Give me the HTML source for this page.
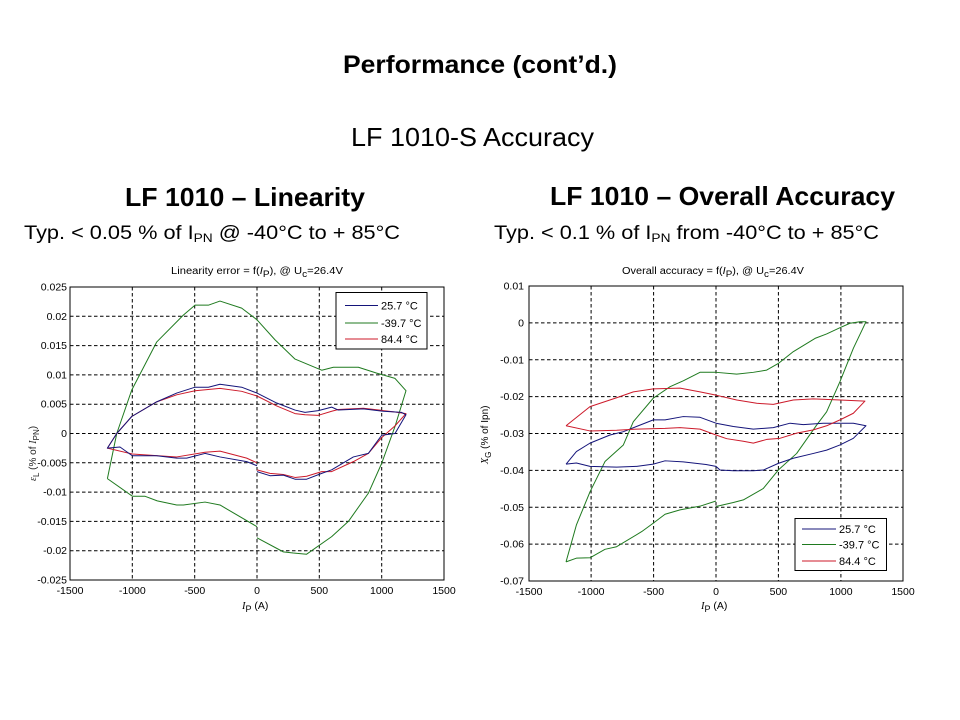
<!DOCTYPE html>
<html><head><meta charset="utf-8"><style>
html,body{margin:0;padding:0;background:#fff;}
svg{display:block;font-family:"Liberation Sans",Arial,sans-serif;}
</style></head><body>
<svg width="960" height="720" viewBox="0 0 960 720" xmlns="http://www.w3.org/2000/svg">
<rect width="960" height="720" fill="#fff"/>
<!-- Titles -->
<text x="343" y="73" font-size="25" font-weight="bold" textLength="274" lengthAdjust="spacingAndGlyphs">Performance (cont’d.)</text>
<text x="351" y="146" font-size="26" textLength="243" lengthAdjust="spacingAndGlyphs">LF 1010-S Accuracy</text>
<text x="125" y="206" font-size="26" font-weight="bold" textLength="240" lengthAdjust="spacingAndGlyphs">LF 1010 – Linearity</text>
<text x="550" y="205" font-size="26" font-weight="bold" textLength="345" lengthAdjust="spacingAndGlyphs">LF 1010 – Overall Accuracy</text>
<text x="24" y="239" font-size="19" textLength="376" lengthAdjust="spacingAndGlyphs">Typ. &lt; 0.05 % of I<tspan font-size="12" dy="3">PN</tspan><tspan dy="-3"> @ -40°C to + 85°C</tspan></text>
<text x="494" y="239" font-size="19" textLength="385" lengthAdjust="spacingAndGlyphs">Typ. &lt; 0.1 % of I<tspan font-size="12" dy="3">PN</tspan><tspan dy="-3"> from -40°C to + 85°C</tspan></text>

<defs>
<clipPath id="cl"><rect x="70" y="287" width="374" height="293"/></clipPath>
<clipPath id="cr"><rect x="529" y="286" width="374" height="295"/></clipPath>
</defs>

<!-- LEFT CHART -->
<text x="171" y="274" font-size="10" textLength="172" lengthAdjust="spacingAndGlyphs">Linearity error = f(<tspan font-style="italic">I</tspan><tspan font-size="9" dy="3">P</tspan><tspan dy="-3">), @ U</tspan><tspan font-size="9" dy="3">c</tspan><tspan dy="-3">=26.4V</tspan></text>
<g stroke="#000" stroke-width="1" stroke-dasharray="3.5,2.5" fill="none">
<line x1="132.3" y1="287" x2="132.3" y2="580"/>
<line x1="194.7" y1="287" x2="194.7" y2="580"/>
<line x1="257" y1="287" x2="257" y2="580"/>
<line x1="319.3" y1="287" x2="319.3" y2="580"/>
<line x1="381.7" y1="287" x2="381.7" y2="580"/>
<line x1="70" y1="316.3" x2="444" y2="316.3"/>
<line x1="70" y1="345.6" x2="444" y2="345.6"/>
<line x1="70" y1="374.9" x2="444" y2="374.9"/>
<line x1="70" y1="404.2" x2="444" y2="404.2"/>
<line x1="70" y1="433.5" x2="444" y2="433.5"/>
<line x1="70" y1="462.8" x2="444" y2="462.8"/>
<line x1="70" y1="492.1" x2="444" y2="492.1"/>
<line x1="70" y1="521.4" x2="444" y2="521.4"/>
<line x1="70" y1="550.7" x2="444" y2="550.7"/>
</g>
<g clip-path="url(#cl)">
<g transform="translate(257 433.5) scale(0.12467 -5.86)" fill="none" stroke-width="1" stroke-linejoin="round">
<polyline vector-effect="non-scaling-stroke" stroke="#1f7a1f" points="-1200,-7.7 -1000,-10.7 -900,-10.7 -800,-11.5 -644,-12.2 -590,-12.2 -417,-11.7 -297,-12.2 0,-15.9"/>
<polyline vector-effect="non-scaling-stroke" stroke="#1f7a1f" points="0,-17.8 211,-20.2 291,-20.4 398,-20.6 599,-17.6 733,-15.0 893,-10.2 1000,-5.1 1107,1.2 1195,7.3 1107,9.4 960,10.3 813,11.3 613,11.3 519,10.8 305,12.7 144,16.0 0,19.4 -123,21.4 -297,22.6 -390,21.9 -497,21.9 -591,20.2 -805,15.6 -1005,7.4 -1125,0 -1200,-7.7"/>
<polyline vector-effect="non-scaling-stroke" stroke="#cc1a2a" points="-1125,0 -1005,2.9 -805,5.4 -644,6.6 -497,7.3 -297,7.7 -123,7.2 0,6.4 158,4.7 305,3.4 385,3.2 492,3.1 599,3.8 652,4.1 853,4.3 1100,3.7 1195,3.4 1107,1.3 1000,-0.7 893,-3.4 773,-4.8 599,-6.5 519,-6.5 398,-7.3 305,-7.5 211,-7.0 104,-6.8 0,-6.2"/>
<polyline vector-effect="non-scaling-stroke" stroke="#cc1a2a" points="0,-5.0 -83,-4.2 -297,-3.0 -417,-3.2 -644,-4.0 -1000,-3.5 -1200,-2.5 -1125,0"/>
<polyline vector-effect="non-scaling-stroke" stroke="#14147a" points="-1125,0 -1005,2.9 -805,5.4 -644,6.9 -497,7.9 -390,7.9 -297,8.4 -123,7.9 0,6.9 158,5.2 305,4.0 385,3.6 492,3.9 599,4.5 652,4.0 853,4.2 1013,3.8 1160,3.6 1195,3.2 1107,0 1000,-0.3 893,-3.4 773,-4.0 599,-6.2 519,-6.8 398,-7.8 305,-7.8 211,-7.1 104,-7.2 0,-6.5"/>
<polyline vector-effect="non-scaling-stroke" stroke="#14147a" points="0,-5.5 -83,-4.8 -297,-4.0 -417,-3.4 -564,-4.2 -644,-4.2 -805,-3.8 -1000,-3.8 -1099,-2.3 -1200,-2.5 -1125,0"/>
</g>
</g>
<rect x="70" y="287" width="374" height="293" fill="none" stroke="#000" stroke-width="1"/>
<!-- left legend -->
<rect x="336" y="292.5" width="91" height="56.5" fill="#fff" stroke="#000" stroke-width="1"/>
<line x1="345" y1="305.5" x2="378" y2="305.5" stroke="#14147a"/>
<line x1="345" y1="323" x2="378" y2="323" stroke="#1f7a1f"/>
<line x1="345" y1="339" x2="378" y2="339" stroke="#cc1a2a"/>
<g font-size="11">
<text x="381" y="309.5">25.7 °C</text>
<text x="381" y="327">-39.7 °C</text>
<text x="381" y="343">84.4 °C</text>
</g>
<!-- left y ticks -->
<g font-size="10.5" text-anchor="end">
<text x="67" y="290.5">0.025</text>
<text x="67" y="319.8">0.02</text>
<text x="67" y="349.1">0.015</text>
<text x="67" y="378.4">0.01</text>
<text x="67" y="407.7">0.005</text>
<text x="67" y="437">0</text>
<text x="67" y="466.3">-0.005</text>
<text x="67" y="495.6">-0.01</text>
<text x="67" y="524.9">-0.015</text>
<text x="67" y="554.2">-0.02</text>
<text x="67" y="583.5">-0.025</text>
</g>
<g font-size="10.5" text-anchor="middle">
<text x="70" y="594">-1500</text>
<text x="132.3" y="594">-1000</text>
<text x="194.7" y="594">-500</text>
<text x="257" y="594">0</text>
<text x="319.3" y="594">500</text>
<text x="381.7" y="594">1000</text>
<text x="444" y="594">1500</text>
</g>
<text x="242" y="609" font-size="10.5"><tspan font-style="italic" font-family="Liberation Serif">I</tspan><tspan font-size="9" dy="3">P</tspan><tspan dy="-3"> (A)</tspan></text>
<text transform="translate(36 481) rotate(-90)" font-size="10" fill="#222"><tspan font-style="italic" font-family="Liberation Serif">ε</tspan><tspan font-size="8" dy="3">L</tspan><tspan dy="-3"> (% of </tspan><tspan font-style="italic" font-family="Liberation Serif">I</tspan><tspan font-size="8" dy="3">PN</tspan><tspan dy="-3">)</tspan></text>

<!-- RIGHT CHART -->
<text x="622" y="274" font-size="10" textLength="182" lengthAdjust="spacingAndGlyphs">Overall accuracy = f(<tspan font-style="italic">I</tspan><tspan font-size="9" dy="3">P</tspan><tspan dy="-3">), @ U</tspan><tspan font-size="9" dy="3">c</tspan><tspan dy="-3">=26.4V</tspan></text>
<g stroke="#000" stroke-width="1" stroke-dasharray="3.5,2.5" fill="none">
<line x1="591.1" y1="286" x2="591.1" y2="581"/>
<line x1="653.6" y1="286" x2="653.6" y2="581"/>
<line x1="716" y1="286" x2="716" y2="581"/>
<line x1="778.4" y1="286" x2="778.4" y2="581"/>
<line x1="840.9" y1="286" x2="840.9" y2="581"/>
<line x1="529" y1="322.9" x2="903" y2="322.9"/>
<line x1="529" y1="359.75" x2="903" y2="359.75"/>
<line x1="529" y1="396.6" x2="903" y2="396.6"/>
<line x1="529" y1="433.5" x2="903" y2="433.5"/>
<line x1="529" y1="470.4" x2="903" y2="470.4"/>
<line x1="529" y1="507.25" x2="903" y2="507.25"/>
<line x1="529" y1="544.1" x2="903" y2="544.1"/>
</g>
<g clip-path="url(#cr)">
<g transform="translate(716 322.9) scale(0.12487 -3.6875)" fill="none" stroke-width="1" stroke-linejoin="round">
<polyline vector-effect="non-scaling-stroke" stroke="#1f7a1f" points="-1201,-64.8 -1118,-63.8 -1009,-63.7 -889,-61.4 -796,-60.7 -595,-56.6 -502,-54.3 -408,-51.9 -288,-50.7 -128,-49.7 0,-48.3"/>
<polyline vector-effect="non-scaling-stroke" stroke="#1f7a1f" points="0,-49.8 139,-48.7 219,-48.0 379,-44.9 499,-39.9 646,-35.4 806,-27.7 886,-24.1 993,-15.9 1100,-6.9 1201,0.3 1153,0.3 1073,-0.1 993,-1.3 886,-3.0 793,-4.2 619,-7.8 499,-11.0 406,-12.8 299,-13.4 166,-13.9 0,-13.4 -128,-13.4 -262,-15.7 -368,-17.3 -502,-20.4 -662,-26.8 -742,-33.1 -889,-37.6 -1009,-45.8 -1118,-54.8 -1201,-64.8"/>
<polyline vector-effect="non-scaling-stroke" stroke="#14147a" points="-1201,-38.3 -1118,-34.9 -1009,-32.6 -849,-30.4 -742,-29.5 -502,-26.3 -408,-26.3 -262,-25.4 -128,-25.6 0,-27.2 139,-28.1 299,-28.8 459,-28.4 593,-27.2 699,-27.6 859,-27.2 1100,-27.2 1201,-27.9 1100,-31.3 993,-33.1 886,-34.5 780,-35.4 619,-36.7 499,-38.1 379,-39.9 299,-40.1 139,-40.1 32,-39.9 0,-38.9 -80,-38.4 -262,-37.7 -408,-37.4 -502,-38.3 -635,-38.9 -796,-39.1 -1009,-38.9 -1118,-38.0 -1201,-38.3"/>
<polyline vector-effect="non-scaling-stroke" stroke="#cc1a2a" points="-1201,-27.9 -1009,-22.7 -796,-20.3 -662,-18.7 -502,-17.9 -288,-17.7 -128,-18.7 0,-19.6 166,-20.9 326,-21.8 459,-22.1 619,-20.9 780,-20.6 993,-20.9 1193,-21.2 1100,-24.5 993,-26.3 886,-27.9 780,-29.0 646,-29.9 512,-31.3 406,-31.6 299,-32.6 219,-32.1 86,-31.4 0,-30.4 -128,-28.8 -288,-28.4 -408,-28.6 -635,-28.8 -796,-29.1 -1009,-29.3 -1201,-27.9"/>
</g>
</g>
<rect x="529" y="286" width="374" height="295" fill="none" stroke="#000" stroke-width="1"/>
<!-- right legend -->
<rect x="795" y="518.5" width="91.5" height="52" fill="#fff" stroke="#000" stroke-width="1"/>
<line x1="802" y1="529" x2="836" y2="529" stroke="#14147a"/>
<line x1="802" y1="544.5" x2="836" y2="544.5" stroke="#1f7a1f"/>
<line x1="802" y1="561" x2="836" y2="561" stroke="#cc1a2a"/>
<g font-size="11">
<text x="839" y="533">25.7 °C</text>
<text x="839" y="548.5">-39.7 °C</text>
<text x="839" y="565">84.4 °C</text>
</g>
<g font-size="10.5" text-anchor="end">
<text x="524" y="289.5">0.01</text>
<text x="524" y="326.4">0</text>
<text x="524" y="363.25">-0.01</text>
<text x="524" y="400.1">-0.02</text>
<text x="524" y="437">-0.03</text>
<text x="524" y="473.9">-0.04</text>
<text x="524" y="510.75">-0.05</text>
<text x="524" y="547.6">-0.06</text>
<text x="524" y="584.5">-0.07</text>
</g>
<g font-size="10.5" text-anchor="middle">
<text x="529" y="595">-1500</text>
<text x="591.1" y="595">-1000</text>
<text x="653.6" y="595">-500</text>
<text x="716" y="595">0</text>
<text x="778.4" y="595">500</text>
<text x="840.9" y="595">1000</text>
<text x="903" y="595">1500</text>
</g>
<text x="701" y="609" font-size="10.5"><tspan font-style="italic" font-family="Liberation Serif">I</tspan><tspan font-size="9" dy="3">P</tspan><tspan dy="-3"> (A)</tspan></text>
<text transform="translate(488 464) rotate(-90)" font-size="10"><tspan font-style="italic" font-family="Liberation Serif">X</tspan><tspan font-size="8" dy="3">G</tspan><tspan dy="-3"> (% of Ipn)</tspan></text>
</svg>
</body></html>
